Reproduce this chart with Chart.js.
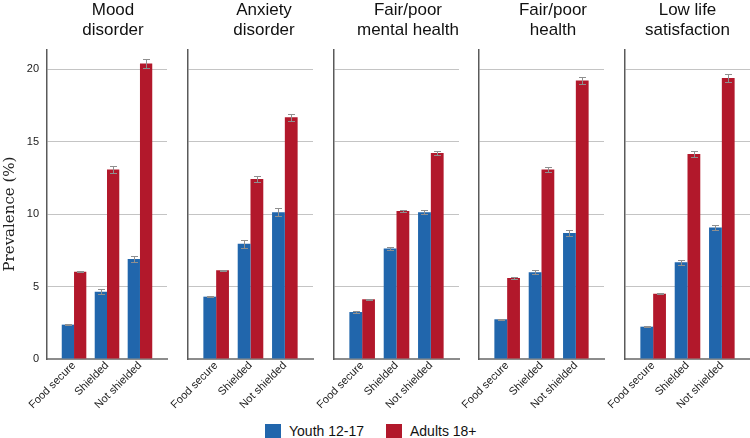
<!DOCTYPE html>
<html>
<head>
<meta charset="utf-8">
<script src="https://cdn.jsdelivr.net/npm/chart.js@4.4.1/dist/chart.umd.min.js"></script>
<style>
  html, body { margin: 0; padding: 0; background: #fff; overflow: hidden; }
  #wrap { position: relative; width: 750px; height: 438px; overflow: hidden; }
  #wrap canvas { position: absolute; top: 0; }
  #legend { position: absolute; left: 265px; top: 423px; display: flex; align-items: center;
            font: 14px "Liberation Sans", Arial, sans-serif; color: #111; }
  #legend .box { width: 16px; height: 15px; display: inline-block; margin-right: 8px; }
  #legend .item { display: flex; align-items: center; margin-right: 22px; }
</style>
</head>
<body>
<div id="wrap">
  <canvas id="c0"></canvas>
  <canvas id="c1"></canvas>
  <canvas id="c2"></canvas>
  <canvas id="c3"></canvas>
  <canvas id="c4"></canvas>
  <div id="legend"></div>
</div>
<script>
// ── data ────────────────────────────────
const categories  = ["Food secure", "Shielded", "Not shielded"];
const outcomes    = [["Mood", "disorder"], ["Anxiety", "disorder"], ["Fair/poor", "mental health"],
                     ["Fair/poor", "health"], ["Low life", "satisfaction"]];
const seriesNames = ["Youth 12-17", "Adults 18+"];

const youth     = [[2.37, 4.64, 6.90], [4.30, 7.95, 10.12], [3.24, 7.63, 10.12], [2.74, 5.98, 8.69], [2.23, 6.67, 9.08]];
const youthErr  = [[0.03, 0.17, 0.20], [0.04, 0.29, 0.28], [0.04, 0.12, 0.15], [0.03, 0.15, 0.18], [0.03, 0.18, 0.18]];
const adults    = [[6.02, 13.08, 20.39], [6.12, 12.41, 16.67], [4.12, 10.21, 14.21], [5.59, 13.08, 19.22], [4.50, 14.14, 19.38]];
const adultsErr = [[0.04, 0.25, 0.33], [0.04, 0.23, 0.26], [0.03, 0.10, 0.12], [0.04, 0.20, 0.23], [0.04, 0.20, 0.25]];

const Y_MAX   = 21.31;
const Y_STEP  = 5;
const Y_TITLE = "Prevalence (%)";

// ── layout (px) ─────────────────────────
const panels = [
  { left: 0,   yW: 47, plotW: 120, rp: 59 },
  { left: 148, yW: 40, plotW: 125, rp: 67 },
  { left: 294, yW: 40, plotW: 125, rp: 63 },
  { left: 439, yW: 40, plotW: 125, rp: 63 },
  { left: 585, yW: 40, plotW: 125, rp: 40 }
];
const CANVAS_H = 420;
const X_AXIS_H = 61;
const COLORS   = ["#2166ac", "#b2182b"];
const FONT     = "'Liberation Sans', Arial, sans-serif";

Chart.defaults.font.family = FONT;
Chart.defaults.color = "#222";

const errorBars = {
  id: "errorBars",
  afterDatasetsDraw(chart) {
    const { ctx } = chart;
    const y = chart.scales.y;
    ctx.save();
    ctx.strokeStyle = "#8f8f8f";
    ctx.lineWidth = 1;
    chart.data.datasets.forEach((ds, i) => {
      chart.getDatasetMeta(i).data.forEach((bar, j) => {
        const v = ds.data[j].y, e = ds.errors[j];
        const top = Math.round(y.getPixelForValue(v + e)) + 0.5;
        const bot = Math.round(y.getPixelForValue(v - e)) + 0.5;
        const x = Math.round(bar.x) + 0.5;
        ctx.beginPath();
        ctx.moveTo(x, top); ctx.lineTo(x, bot);
        ctx.moveTo(x - 3.5, top); ctx.lineTo(x + 3.5, top);
        ctx.moveTo(x - 3.5, bot); ctx.lineTo(x + 3.5, bot);
        ctx.stroke();
      });
    });
    ctx.restore();
  }
};

// y title, centred on the "10" gridline like the original
const yTitle = {
  id: "yTitle",
  afterDraw(chart, args, opts) {
    if (!opts.display) return;
    const { ctx } = chart;
    const y = chart.scales.y;
    ctx.save();
    ctx.translate(y.left + 10.5, y.getPixelForValue(10));
    ctx.rotate(-Math.PI / 2);
    ctx.font = "15px 'DejaVu Serif', serif";
    ctx.fillStyle = "#222";
    ctx.textAlign = "center";
    ctx.textBaseline = "middle";
    ctx.fillText(Y_TITLE, 0, 0);
    ctx.restore();
  }
};

panels.forEach((p, i) => {
  const canvas = document.getElementById("c" + i);
  const w = p.yW + p.plotW + p.rp;
  canvas.width = w; canvas.height = CANVAS_H;
  canvas.style.left = p.left + "px";
  canvas.style.width = w + "px"; canvas.style.height = CANVAS_H + "px";

  new Chart(canvas, {
    type: "bar",
    data: {
      datasets: [
        { label: seriesNames[0], data: youth[i].map((v, k) => ({ x: k, y: v })),
          errors: youthErr[i], backgroundColor: COLORS[0] },
        { label: seriesNames[1], data: adults[i].map((v, k) => ({ x: k, y: v })),
          errors: adultsErr[i], backgroundColor: COLORS[1] }
      ]
    },
    options: {
      responsive: false,
      animation: false,
      devicePixelRatio: 1,
      layout: { padding: 0 },
      datasets: { bar: { categoryPercentage: 0.745, barPercentage: 1.0, borderWidth: 0 } },
      plugins: {
        legend: { display: false },
        tooltip: { enabled: false },
        yTitle: { display: i === 0 },
        title: {
          display: true, text: outcomes[i], color: "#111",
          font: { size: 17, weight: "normal", lineHeight: 1.18 },
          padding: { top: 0, bottom: 10 }
        }
      },
      scales: {
        x: {
          type: "linear", min: -0.82, max: 2.82, offset: false,
          afterBuildTicks: s => { s.ticks = categories.map((c, k) => ({ value: k })); },
          afterFit: s => { s.height = X_AXIS_H; },
          grid: { display: false, drawTicks: false },
          border: { display: true, color: "#8c8c8c", width: 2 },
          ticks: {
            autoSkip: false, minRotation: 45, maxRotation: 45, padding: 0,
            color: "#222", font: { size: 11 },
            callback: v => categories[v]
          }
        },
        y: {
          min: 0, max: Y_MAX,
          afterFit: s => { s.width = p.yW; },
          grid: {
            drawTicks: false, lineWidth: 1,
            color: c => (c.tick && c.tick.value === 0) ? "rgba(0,0,0,0)" : "#c4c4c4"
          },
          border: { display: true, color: "#5a5a5a", width: 1.5 },
          ticks: { display: i === 0, stepSize: Y_STEP, includeBounds: false, padding: 8,
                   color: "#222", font: { size: 11 } }
        },
        pad: {
          position: "right", display: true,
          afterFit: s => { s.width = p.rp; },
          ticks: { display: false },
          grid: { display: false, drawTicks: false },
          border: { display: false }
        }
      }
    },
    plugins: [errorBars, yTitle]
  });
});

// legend
const legend = document.getElementById("legend");
seriesNames.forEach((name, k) => {
  const item = document.createElement("span");
  item.className = "item";
  const box = document.createElement("span");
  box.className = "box";
  box.style.background = COLORS[k];
  item.appendChild(box);
  item.appendChild(document.createTextNode(name));
  legend.appendChild(item);
});
</script>
</body>
</html>
